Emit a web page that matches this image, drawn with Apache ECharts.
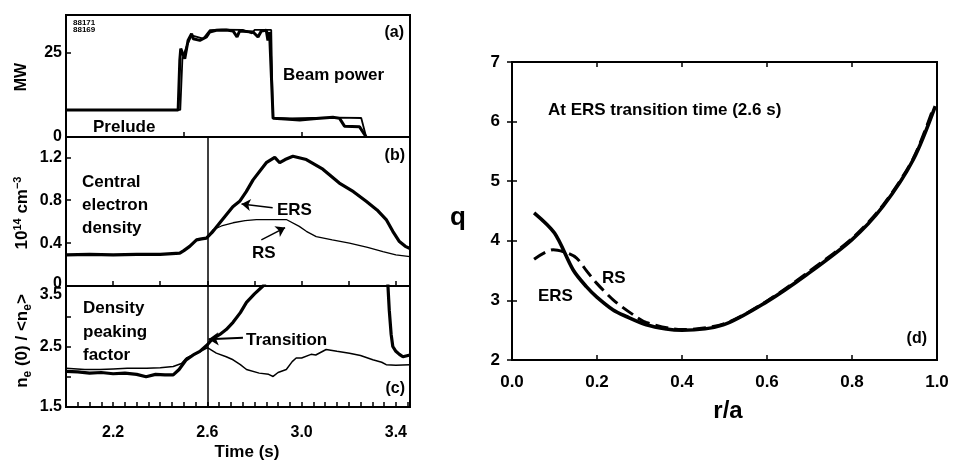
<!DOCTYPE html>
<html><head><meta charset="utf-8">
<script src="https://cdn.jsdelivr.net/npm/echarts@6/dist/echarts.min.js"></script>
<style>html,body{margin:0;padding:0;background:#fff}#c{width:955px;height:462px}</style>
</head><body><div id="c"></div>
<script>
const FONT = '"Liberation Sans", Arial, Helvetica, sans-serif';

// ---- Panel (a): beam power (MW) vs time (s)
const beam88171 = [[2.0,8],[2.476,8],[2.483,22.6],[2.487,26.1],[2.504,23.1],[2.518,28.5],[2.533,30.5],[2.54,29.0],[2.568,28.5],[2.596,29.5],[2.61,31],[2.638,31.5],[2.68,31.6],[2.709,31.3],[2.726,29.5],[2.737,31.3],[2.794,31.0],[2.815,29.5],[2.829,31.3],[2.85,31.5],[2.857,28.5],[2.864,31],[2.879,5.5],[2.93,5.3],[2.992,5.0],[3.05,5.4],[3.133,5.8],[3.161,5.5],[3.182,3.2],[3.246,3.0],[3.274,0]];
const beam88169 = [[2.0,8],[2.485,8],[2.494,23],[2.511,26.6],[2.533,30],[2.582,29],[2.61,31.5],[2.66,31.7],[2.75,31.6],[2.79,30.6],[2.80,31.6],[2.871,31.6],[2.878,5.6],[2.95,5.5],[3.05,5.6],[3.15,5.7],[3.253,5.6],[3.274,0]];

// ---- Panel (b): central electron density (1e14 cm^-3)
const densERS = [[2.0,0.29],[2.1,0.295],[2.2,0.29],[2.3,0.295],[2.4,0.295],[2.483,0.306],[2.5,0.33],[2.525,0.37],[2.554,0.43],[2.575,0.44],[2.596,0.447],[2.62,0.50],[2.653,0.59],[2.708,0.74],[2.737,0.79],[2.765,0.88],[2.794,0.99],[2.85,1.15],[2.886,1.20],[2.907,1.15],[2.93,1.18],[2.963,1.21],[3.02,1.18],[3.09,1.09],[3.16,0.96],[3.22,0.88],[3.274,0.79],[3.32,0.71],[3.359,0.62],[3.387,0.51],[3.415,0.415],[3.44,0.37],[3.46,0.35]];
const densRS = [[2.0,0.29],[2.1,0.295],[2.2,0.29],[2.3,0.295],[2.4,0.295],[2.483,0.306],[2.5,0.33],[2.525,0.37],[2.554,0.43],[2.575,0.44],[2.596,0.447],[2.624,0.525],[2.66,0.56],[2.709,0.59],[2.76,0.61],[2.808,0.62],[2.935,0.62],[2.99,0.556],[3.02,0.51],[3.062,0.46],[3.13,0.43],[3.203,0.40],[3.28,0.36],[3.345,0.32],[3.4,0.29],[3.46,0.275]];

// ---- Panel (c): density peaking factor
const peakERSrise = [[2.0,2.09],[2.05,2.08],[2.1,2.06],[2.15,2.07],[2.2,2.05],[2.25,2.06],[2.3,2.04],[2.34,2.0],[2.38,2.04],[2.42,2.03],[2.455,2.03],[2.48,2.12],[2.51,2.28],[2.54,2.36],[2.568,2.42],[2.6,2.53],[2.62,2.62],[2.653,2.70],[2.68,2.78],[2.709,2.90],[2.74,3.06],[2.766,3.23],[2.8,3.37],[2.836,3.50],[2.86,3.62]];
const peakERSfall = [[3.355,3.7],[3.366,3.53],[3.372,3.1],[3.38,2.7],[3.387,2.5],[3.40,2.42],[3.415,2.37],[3.43,2.33],[3.46,2.36]];
const peakRS = [[2.0,2.14],[2.08,2.12],[2.144,2.12],[2.2,2.13],[2.26,2.14],[2.342,2.14],[2.4,2.15],[2.455,2.17],[2.49,2.22],[2.511,2.31],[2.55,2.38],[2.6,2.48],[2.638,2.39],[2.68,2.33],[2.709,2.28],[2.74,2.2],[2.766,2.12],[2.82,2.06],[2.86,2.04],[2.879,2.005],[2.9,2.07],[2.935,2.12],[2.96,2.25],[2.977,2.31],[3.0,2.31],[3.04,2.37],[3.06,2.36],[3.104,2.45],[3.15,2.42],[3.203,2.39],[3.25,2.35],[3.302,2.28],[3.34,2.24],[3.359,2.20],[3.4,2.19],[3.46,2.20]];

// ---- Panel (d): q profile vs r/a
const qERS = [[0.052,4.47],[0.10,4.13],[0.144,3.51],[0.175,3.23],[0.199,3.06],[0.238,2.84],[0.269,2.73],[0.316,2.59],[0.363,2.52],[0.40,2.50],[0.497,2.59],[0.60,2.98],[0.693,3.43],[0.80,4.02],[0.873,4.58],[0.944,5.36],[0.996,6.26]];
const qRS = [[0.052,3.69],[0.097,3.85],[0.128,3.80],[0.152,3.71],[0.175,3.50],[0.199,3.29],[0.238,3.01],[0.285,2.76],[0.316,2.63],[0.40,2.51],[0.50,2.61],[0.60,2.99],[0.70,3.49],[0.80,4.04],[0.873,4.60],[0.944,5.38],[0.99,6.2]];

const timeTickLabels = [2.2, 2.6, 3.0, 3.4];
const transitionTime = 2.6;

const chart = echarts.init(document.getElementById('c'), null, {renderer:'canvas'});
const BLACK = '#000';
const tickStyle = {inside:true, length:5, lineStyle:{color:BLACK, width:1.5}};
const lbl = (size, margin, extra) => Object.assign({color:BLACK, fontFamily:FONT, fontWeight:'bold', fontSize:size, margin:margin}, extra||{});
const gridBase = {show:true, borderColor:BLACK, borderWidth:2, backgroundColor:'transparent', containLabel:false, outerBoundsMode:'none'};
const noLine = {show:false};
const noSplit = {show:false};
const near = (a,b) => Math.abs(a-b) < 1e-6;

function xTime(idx, interval, labels){
  return {gridIndex:idx, type:'value', min:2.0, max:3.46, interval:interval,
    axisLine:noLine, splitLine:noSplit, axisTick:tickStyle,
    axisLabel: labels ? lbl(16, 18, {interval:0, formatter:v => timeTickLabels.some(t=>near(t,v)) ? v.toFixed(1) : ''}) : {show:false}};
}

const series = [
  {type:'line', xAxisIndex:0, yAxisIndex:0, data:beam88169, showSymbol:false, lineStyle:{color:BLACK, width:1.8}},
  {type:'line', xAxisIndex:0, yAxisIndex:0, data:beam88171, showSymbol:false, lineStyle:{color:BLACK, width:3}},
  {type:'line', xAxisIndex:1, yAxisIndex:1, data:densRS, showSymbol:false, lineStyle:{color:BLACK, width:1.3},
    markLine:{silent:true, symbol:'none', label:{show:false}, lineStyle:{color:BLACK, width:1.5, type:'solid'}, data:[{xAxis:transitionTime}]}},
  {type:'line', xAxisIndex:1, yAxisIndex:1, data:densERS, showSymbol:false, lineStyle:{color:BLACK, width:3.2},
    markLine:{silent:true, symbol:['none','arrow'], symbolSize:9, label:{show:false}, lineStyle:{color:BLACK, width:1.5, type:'solid'},
      data:[[{coord:[2.877,0.73]},{coord:[2.745,0.765]}],[{coord:[2.829,0.431]},{coord:[2.93,0.545]}]]}},
  {type:'line', xAxisIndex:2, yAxisIndex:2, data:peakRS, showSymbol:false, lineStyle:{color:BLACK, width:1.5},
    markLine:{silent:true, symbol:'none', label:{show:false}, lineStyle:{color:BLACK, width:1.5, type:'solid'}, data:[{xAxis:transitionTime}]}},
  {type:'line', xAxisIndex:2, yAxisIndex:2, data:peakERSrise, showSymbol:false, lineStyle:{color:BLACK, width:3.2},
    markLine:{silent:true, symbol:['none','arrow'], symbolSize:10, label:{show:false}, lineStyle:{color:BLACK, width:1.8, type:'solid'},
      data:[[{coord:[2.751,2.645]},{coord:[2.605,2.62]}]]}},
  {type:'line', xAxisIndex:2, yAxisIndex:2, data:peakERSfall, showSymbol:false, lineStyle:{color:BLACK, width:3.2}},
  {type:'line', xAxisIndex:3, yAxisIndex:3, data:qRS, showSymbol:false, smooth:0.3, lineStyle:{color:BLACK, width:3, type:[13,6]}},
  {type:'line', xAxisIndex:3, yAxisIndex:3, data:qERS, showSymbol:false, smooth:0.3, lineStyle:{color:BLACK, width:3.6}}
];

function T(x, y, text, size, align, extra){
  return Object.assign({type:'text', x:x, y:y, silent:true,
    style:{text:text, fill:BLACK, fontFamily:FONT, fontWeight:'bold', fontSize:size, align:align||'left', verticalAlign:'middle'}}, extra||{});
}

const graphic = [
  T(73, 23, '88171', 8, 'left'),
  T(73, 30, '88169', 8, 'left'),
  T(404, 33, '(a)', 16, 'right'),
  T(283, 75, 'Beam power', 17, 'left'),
  T(93, 127, 'Prelude', 17, 'left'),
  T(405, 156, '(b)', 16, 'right'),
  T(82, 182, 'Central', 17, 'left'),
  T(82, 205, 'electron', 17, 'left'),
  T(82, 228, 'density', 17, 'left'),
  T(277, 210, 'ERS', 17, 'left'),
  T(252, 253, 'RS', 17, 'left'),
  T(83, 308, 'Density', 17, 'left'),
  T(83, 332, 'peaking', 17, 'left'),
  T(83, 355, 'factor', 17, 'left'),
  T(246, 340, 'Transition', 17, 'left'),
  T(405, 389, '(c)', 16, 'right'),
  T(247, 452, 'Time (s)', 17, 'center'),
  T(22, 77, 'MW', 16, 'center', {rotation:Math.PI/2}),
  {type:'text', x:22, y:213, rotation:Math.PI/2, silent:true,
    style:{text:'10{sup|14} cm{sup|−3}', fill:BLACK, fontFamily:FONT, fontWeight:'bold', fontSize:17, align:'center', verticalAlign:'middle',
      rich:{sup:{fontFamily:FONT, fontWeight:'bold', fontSize:11, verticalAlign:'top', lineHeight:20, fill:BLACK}}}},
  {type:'text', x:22, y:341, rotation:Math.PI/2, silent:true,
    style:{text:'n{sub|e} (0) / <n{sub|e}>', fill:BLACK, fontFamily:FONT, fontWeight:'bold', fontSize:17, align:'center', verticalAlign:'middle',
      rich:{sub:{fontFamily:FONT, fontWeight:'bold', fontSize:12, verticalAlign:'bottom', lineHeight:23, fill:BLACK}}}},
  T(548, 110, 'At ERS transition time (2.6 s)', 17, 'left'),
  T(602, 278, 'RS', 17, 'left'),
  T(538, 296, 'ERS', 17, 'left'),
  T(927, 339, '(d)', 16, 'right'),
  T(458, 218, 'q', 26, 'center'),
  T(728, 411, 'r/a', 24, 'center')
];

const option = {
  animation:false,
  backgroundColor:'#fff',
  grid:[
    Object.assign({left:66, top:15, width:344, height:122}, gridBase),
    Object.assign({left:66, top:137, width:344, height:149}, gridBase),
    Object.assign({left:66, top:286, width:344, height:121}, gridBase),
    Object.assign({left:512, top:62, width:425, height:298}, gridBase)
  ],
  xAxis:[
    xTime(0, 0.5, false),
    xTime(1, 0.2, false),
    xTime(2, 0.05, true),
    {gridIndex:3, type:'value', min:0, max:1, interval:0.2, axisLine:noLine, splitLine:noSplit, axisTick:tickStyle,
      axisLabel:lbl(17, 14, {formatter:v => v.toFixed(1)})},
    {gridIndex:3, type:'value', position:'top', min:0, max:1, interval:0.2, axisLine:noLine, splitLine:noSplit, axisTick:tickStyle, axisLabel:{show:false}}
  ],
  yAxis:[
    {gridIndex:0, type:'value', min:0, max:36, interval:25, axisLine:noLine, splitLine:noSplit, axisTick:tickStyle,
      axisLabel:lbl(16, 4, {formatter:v => (near(v,0)||near(v,25)) ? String(Math.round(v)) : ''})},
    {gridIndex:1, type:'value', min:0, max:1.39, interval:0.4, axisLine:noLine, splitLine:noSplit, axisTick:tickStyle,
      axisLabel:lbl(16, 4, {formatter:v => near(v,0) ? '{up|0}' : ([0.4,0.8,1.2].some(t=>near(t,v)) ? v.toFixed(1) : ''),
        rich:{up:{fontFamily:FONT, fontWeight:'bold', fontSize:16, color:BLACK, padding:[0,0,4,0]}}})},
    {gridIndex:2, type:'value', min:1.5, max:3.5, interval:0.5, axisLine:noLine, splitLine:noSplit, axisTick:tickStyle,
      axisLabel:lbl(16, 4, {formatter:v => near(v,3.5) ? '{dn|3.5}' : ((near(v,1.5)||near(v,2.5)) ? v.toFixed(1) : ''),
        rich:{dn:{fontFamily:FONT, fontWeight:'bold', fontSize:16, color:BLACK, padding:[18,0,0,0]}}})},
    {gridIndex:3, type:'value', min:2, max:7, interval:1, axisLine:noLine, splitLine:noSplit, axisTick:tickStyle,
      axisLabel:lbl(17, 12)},
    {gridIndex:3, type:'value', position:'right', min:2, max:7, interval:1, axisLine:noLine, splitLine:noSplit, axisTick:tickStyle, axisLabel:{show:false}}
  ],
  series:series,
  graphic:graphic
};
chart.setOption(option);
</script>
</body></html>
